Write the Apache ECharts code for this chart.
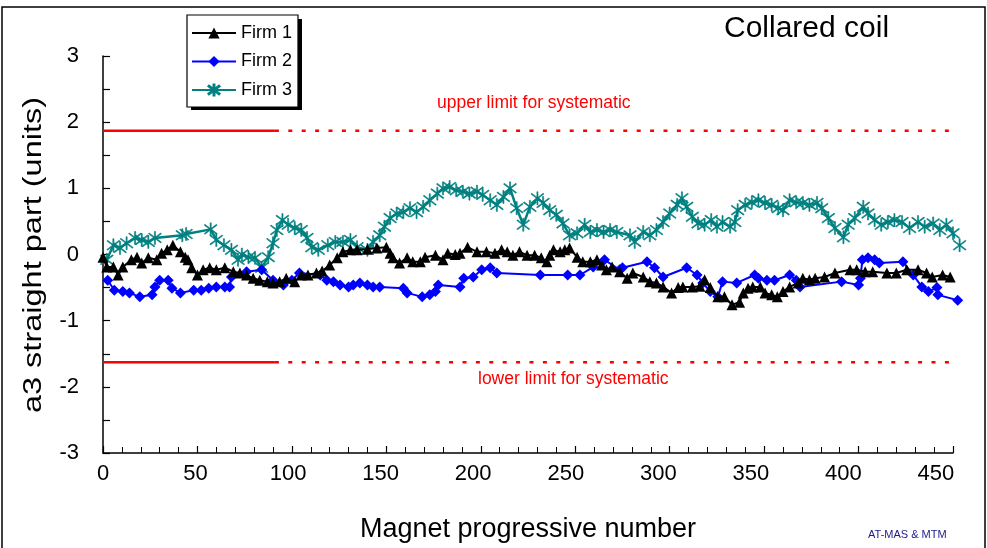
<!DOCTYPE html>
<html>
<head>
<meta charset="utf-8">
<script src="https://cdn.jsdelivr.net/npm/echarts@6/dist/echarts.min.js"></script>
<style>
  html, body { margin: 0; padding: 0; background: #fff; }
  #chart { width: 987px; height: 548px; }
</style>
</head>
<body>
<div id="chart"></div>
<script>
// a3 harmonic in the straight part, per firm, vs magnet progressive number
const firm1 = [
  [0,-0.04],[2,-0.19],[5.5,-0.19],[8,-0.31],[10.5,-0.19],[15,-0.08],[18,-0.04],[20.5,-0.13],
  [24,-0.05],[28.5,-0.08],[31,0.02],[34,0.07],[37,0.14],[41,0.04],[43.5,-0.04],[45,-0.08],
  [47,-0.2],[50,-0.31],[53,-0.23],[56.5,-0.2],[60,-0.23],[64.5,-0.2],[69,-0.26],[72.5,-0.28],
  [76,-0.31],[79.5,-0.36],[83,-0.39],[87,-0.41],[90,-0.43],[93.5,-0.41],[97,-0.36],[101.5,-0.41],
  [105,-0.31],[108.5,-0.31],[113,-0.28],[116,-0.25],[120,-0.16],[124,-0.05],[127,0.04],[131,0.07],
  [134.5,0.07],[140,0.08],[145,0.1],[150,0.11],[152,0.02],[153.5,-0.05],[157,-0.13],[161,-0.05],
  [164,-0.11],[168,-0.11],[170.5,-0.04],[176,-0.01],[180,-0.08],[182.5,0.02],[186.5,0],[189,0.02],
  [193,0.11],[198,0.04],[203,0.04],[207.5,0.02],[211,0.07],[214,0.04],[217,-0.01],[220.5,0.04],
  [224.5,-0.01],[228.5,-0.01],[232,-0.05],[235,-0.11],[236.5,-0.01],[238.5,0.07],[242,0.04],
  [244.5,0.07],[247,0.1],[251,-0.04],[254,-0.11],[258,-0.11],[261.5,-0.08],[264,-0.16],
  [266.5,-0.23],[269.5,-0.19],[273.5,-0.26],[277.5,-0.36],[280.5,-0.28],[286,-0.34],[289.5,-0.41],
  [293,-0.43],[296.5,-0.49],[301,-0.58],[304.5,-0.5],[307,-0.49],[312,-0.49],[316,-0.48],
  [318.5,-0.38],[321.5,-0.5],[325.5,-0.64],[329,-0.64],[333,-0.76],[337,-0.72],[339,-0.58],
  [341.5,-0.51],[344,-0.49],[348,-0.49],[350.5,-0.58],[354,-0.61],[357,-0.64],[360,-0.56],
  [363.5,-0.49],[368,-0.43],[370.5,-0.36],[374,-0.38],[377,-0.36],[382,-0.34],[387.5,-0.28],
  [395.5,-0.23],[399,-0.23],[403.5,-0.26],[407.5,-0.26],[415,-0.28],[420,-0.28],[425.5,-0.23],
  [431.5,-0.23],[436,-0.28],[439,-0.34],[444.5,-0.31],[448.5,-0.34]
];
const firm2 = [
  [2.5,-0.39],[6,-0.54],[10.5,-0.56],[14,-0.58],[19.5,-0.64],[26,-0.61],[27.5,-0.49],[30,-0.39],
  [34.5,-0.39],[36.5,-0.51],[41,-0.58],[48,-0.54],[52,-0.54],[56,-0.51],[60,-0.49],[64.5,-0.49],
  [67,-0.49],[68,-0.34],[76,-0.26],[84,-0.23],[90,-0.39],[95.5,-0.46],[100,-0.39],[104,-0.28],
  [115,-0.31],[118.5,-0.39],[122,-0.41],[125.5,-0.46],[130,-0.49],[132.5,-0.46],[136,-0.43],
  [140,-0.46],[143,-0.49],[146.5,-0.49],[159,-0.51],[161,-0.58],[169,-0.64],[173,-0.61],
  [176,-0.56],[177.5,-0.46],[189,-0.49],[191,-0.36],[196,-0.34],[200.5,-0.23],[205,-0.2],
  [208.5,-0.28],[231.5,-0.31],[246,-0.31],[252.5,-0.31],[259.5,-0.19],[265.5,-0.08],[273.5,-0.23],
  [275,-0.2],[288,-0.11],[292,-0.2],[296.5,-0.34],[309,-0.2],[314.5,-0.31],[317.5,-0.43],
  [321.5,-0.56],[325.5,-0.64],[328,-0.41],[335.5,-0.43],[345,-0.31],[347,-0.36],[351.5,-0.39],
  [355.5,-0.39],[363.5,-0.31],[367,-0.39],[369,-0.49],[391,-0.41],[400,-0.46],[401,-0.36],
  [402,-0.08],[405,-0.05],[408.5,-0.08],[411,-0.13],[423.5,-0.11],[429,-0.31],[433.5,-0.49],
  [437,-0.56],[441.5,-0.5],[442,-0.61],[452.5,-0.69]
];
const firm3 = [
  [2,-0.08],[5.5,0.14],[9,0.1],[12.5,0.17],[17,0.25],[20.5,0.22],[24,0.19],[27.5,0.25],
  [42,0.29],[44,0.31],[57,0.38],[60,0.22],[64,0.14],[68,0.07],[71.5,-0.08],[73.5,0],
  [77,-0.04],[80.5,-0.05],[84,-0.2],[87.5,-0.04],[90,0.17],[92,0.37],[95,0.52],[98,0.45],
  [101.5,0.4],[105,0.37],[108,0.25],[110.5,0.11],[114,0.07],[119,0.14],[123,0.19],[127,0.19],
  [131,0.22],[134.5,0.11],[140,0.07],[143,0.19],[146.5,0.29],[149,0.42],[152,0.55],[155.5,0.62],
  [159,0.64],[162.5,0.7],[166,0.64],[169.5,0.72],[173,0.82],[177,0.92],[180,1.0],[183.5,1.02],
  [187,0.97],[190.5,0.95],[194,0.92],[198,0.95],[201,0.9],[205,0.82],[208.5,0.75],[212,0.87],
  [215.5,1.0],[219,0.7],[222.5,0.45],[226,0.72],[230,0.85],[233,0.78],[236.5,0.67],[240,0.6],
  [243.5,0.47],[247,0.29],[251,0.32],[255,0.45],[258,0.34],[261.5,0.37],[265,0.34],[268.5,0.37],
  [272,0.34],[279,0.29],[281.5,0.19],[286,0.34],[289.5,0.29],[293,0.37],[296.5,0.49],[300,0.62],
  [304,0.75],[306.5,0.85],[309,0.72],[312,0.57],[315,0.47],[318.5,0.45],[322,0.52],[325,0.42],
  [328,0.49],[332,0.42],[334.5,0.49],[336,0.67],[340,0.75],[343.5,0.79],[347,0.82],[350.5,0.78],
  [354,0.75],[357.5,0.7],[360,0.67],[363.5,0.82],[367,0.79],[370.5,0.78],[374,0.75],[378,0.78],
  [380.5,0.7],[384,0.55],[387.5,0.4],[392,0.26],[394.5,0.45],[398,0.55],[402.5,0.72],[405,0.62],
  [408.5,0.52],[412,0.45],[415.5,0.49],[419,0.52],[423,0.49],[427,0.4],[431.5,0.49],[435,0.42],
  [439.5,0.47],[443,0.37],[446.5,0.45],[450,0.32],[453.5,0.14]
];

// systematic limits (solid over the first magnets, dotted afterwards)
const upperLimit = 1.87;
const lowerLimit = -1.63;
const limitSolidX = [0, 91];
const limitDottedX = [91, 450];

const xTicks = { min: 0, max: 450, step: 50 };
const yTicks = { min: -3, max: 3, step: 1 };
// tick labels of the x axis sit on a slightly narrower spacing than the tick marks
const xLabelSpan = 459.2;

const FONT = '"Liberation Sans", Arial, sans-serif';

const star = 'path://M9.2 0 L10.8 0 L10.8 20 L9.2 20 Z M0.6 3.6 L1.6 2.3 L19.4 16.4 L18.4 17.7 Z M18.4 2.3 L19.4 3.6 L1.6 17.7 L0.6 16.4 Z';

function seg(xs, y) { return xs.map(x => [x, y]); }

const chart = echarts.init(document.getElementById('chart'));
chart.setOption({
  animation: false,
  backgroundColor: '#fff',
  grid: { left: 103, right: 34, top: 56, bottom: 95, containLabel: false },
  xAxis: [{
    type: 'value', min: xTicks.min, max: xTicks.max, interval: xTicks.step,
    name: 'Magnet progressive number', nameLocation: 'middle', nameGap: 63,
    nameTextStyle: { fontFamily: FONT, fontSize: 27, color: '#000' },
    axisLine: { onZero: false, lineStyle: { color: '#000', width: 1.5 } },
    axisTick: { inside: true, length: 7, lineStyle: { color: '#000', width: 1.2 } },
    minorTick: { show: true, splitNumber: 5, length: 6, lineStyle: { color: '#000', width: 1 } },
    axisLabel: { show: false },
    splitLine: { show: false }
  }, {
    type: 'value', position: 'bottom', min: xTicks.min, max: xLabelSpan, interval: xTicks.step,
    axisLine: { show: false }, axisTick: { show: false }, splitLine: { show: false },
    axisLabel: { fontFamily: FONT, fontSize: 22, color: '#000', margin: 10, showMaxLabel: false }
  }],
  yAxis: {
    type: 'value', min: yTicks.min, max: yTicks.max, interval: yTicks.step,
    axisLine: { onZero: false, lineStyle: { color: '#000', width: 1.5 } },
    axisTick: { inside: true, length: 7, lineStyle: { color: '#000', width: 1.2 } },
    minorTick: { show: true, splitNumber: 2, length: 7, lineStyle: { color: '#000', width: 1.2 } },
    axisLabel: { fontFamily: FONT, fontSize: 22, color: '#000', margin: 24 },
    splitLine: { show: false }
  },
  legend: {
    orient: 'vertical', left: 187, top: 15,
    data: ['Firm 1', 'Firm 2', 'Firm 3'],
    backgroundColor: '#fff', borderColor: '#000', borderWidth: 1.2,
    padding: [9, 6, 8, 4], itemGap: 10.5, itemWidth: 44, itemHeight: 14,
    textStyle: { fontFamily: FONT, fontSize: 18, color: '#000' }
  },
  series: [
    { name: 'limit-up-solid', type: 'line', data: seg(limitSolidX, upperLimit), symbol: 'none',
      lineStyle: { color: '#ff0000', width: 2.5 }, silent: true, z: 1 },
    { name: 'limit-up-dot', type: 'line', data: seg(limitDottedX, upperLimit), symbol: 'none',
      lineStyle: { color: '#ff0000', width: 2.5, type: [4, 9.4] }, silent: true, z: 1 },
    { name: 'limit-lo-solid', type: 'line', data: seg(limitSolidX, lowerLimit), symbol: 'none',
      lineStyle: { color: '#ff0000', width: 2.5 }, silent: true, z: 1 },
    { name: 'limit-lo-dot', type: 'line', data: seg(limitDottedX, lowerLimit), symbol: 'none',
      lineStyle: { color: '#ff0000', width: 2.5, type: [4, 9.4] }, silent: true, z: 1 },
    { name: 'Firm 3', type: 'line', data: firm3, clip: false, z: 3,
      symbol: star, symbolSize: 13, color: '#008080',
      lineStyle: { color: '#008080', width: 2.5 },
      itemStyle: { color: '#008080', borderColor: '#008080', borderWidth: 0.6 } },
    { name: 'Firm 2', type: 'line', data: firm2, clip: false, z: 4,
      symbol: 'diamond', symbolSize: 11, color: '#0000ff',
      lineStyle: { color: '#0000ff', width: 2 },
      itemStyle: { color: '#0000ff' } },
    { name: 'Firm 1', type: 'line', data: firm1, clip: false, z: 5,
      symbol: 'triangle', symbolSize: 11, color: '#000',
      lineStyle: { color: '#000', width: 2 },
      itemStyle: { color: '#000' } }
  ],
  graphic: [
    { type: 'rect', shape: { x: 2, y: 7, width: 983, height: 548 }, silent: true, z: -10,
      style: { fill: null, stroke: '#000', lineWidth: 1.5 } },
    // drop shadow of the legend box
    { type: 'rect', shape: { x: 191, y: 19, width: 111, height: 91 }, silent: true, z: 3,
      style: { fill: '#000' } },
    { type: 'text', x: 34, y: 255, rotation: Math.PI / 2, scaleX: 1.25, silent: true,
      style: { text: 'a3 straight part (units)', font: '26px ' + FONT, fill: '#000',
               align: 'center', verticalAlign: 'middle', textAlign: 'center', textVerticalAlign: 'middle' } },
    { type: 'text', left: 724, top: 14, silent: true,
      style: { text: 'Collared coil', font: '30px ' + FONT, fill: '#000' } },
    { type: 'text', left: 437, top: 94, silent: true,
      style: { text: 'upper limit for systematic', font: '17.5px ' + FONT, fill: '#ff0000' } },
    { type: 'text', left: 478, top: 370, silent: true,
      style: { text: 'lower limit for systematic', font: '17.5px ' + FONT, fill: '#ff0000' } },
    { type: 'text', left: 868, top: 529, silent: true,
      style: { text: 'AT-MAS & MTM', font: '11px ' + FONT, fill: '#1a1a8c' } }
  ]
});
</script>
</body>
</html>
